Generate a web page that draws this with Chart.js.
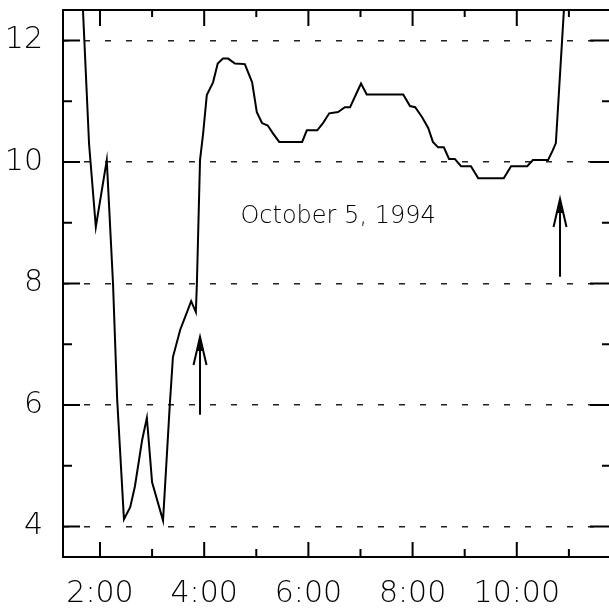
<!DOCTYPE html>
<html>
<head>
<meta charset="utf-8">
<script src="https://cdn.jsdelivr.net/npm/chart.js@4.4.1/dist/chart.umd.min.js"></script>
<style>
  html, body { margin: 0; padding: 0; background: #fff; }
  canvas { display: block; }
</style>
</head>
<body>
<canvas id="chart" width="609" height="609"></canvas>
<script>
// time of day in decimal hours
const hours = [1.62, 1.79, 1.92, 2.13, 2.25, 2.33, 2.46, 2.58, 2.67, 2.81, 2.90, 3.00, 3.21, 3.29, 3.34, 3.40, 3.54, 3.67, 3.75, 3.84,
    3.86, 3.92, 3.98, 4.05, 4.17, 4.26, 4.36, 4.46, 4.59, 4.78, 4.92, 5.01, 5.11, 5.22, 5.32, 5.44, 5.88, 5.97, 6.17, 6.28,
    6.40, 6.57, 6.70, 6.80, 7.01, 7.12, 7.82, 7.95, 8.05, 8.18, 8.30, 8.39, 8.49, 8.60, 8.70, 8.81, 8.93, 9.12, 9.26, 9.75,
    9.89, 10.20, 10.31, 10.60, 10.69, 10.75, 10.94];
const values = [13.5, 10.3, 8.93, 10.03, 8.0, 6.09, 4.12, 4.32, 4.66, 5.43, 5.79, 4.73, 4.10, 5.27, 6.01, 6.79, 7.24, 7.53, 7.71, 7.53,
    8.0, 10.03, 10.47, 11.10, 11.31, 11.62, 11.70, 11.70, 11.62, 11.61, 11.31, 10.82, 10.64, 10.60, 10.47, 10.33, 10.33, 10.52, 10.52, 10.64,
    10.80, 10.82, 10.90, 10.90, 11.29, 11.11, 11.11, 10.92, 10.90, 10.74, 10.56, 10.33, 10.24, 10.24, 10.05, 10.05, 9.93, 9.93, 9.73, 9.73,
    9.93, 9.93, 10.03, 10.03, 10.19, 10.31, 13.0];

const xTickHours = [2, 4, 6, 8, 10];
const xTickLabels = ['2:00', '4:00', '6:00', '8:00', '10:00'];
const xMinorHours = [3, 5, 7, 9, 11];
const yTickValues = [4, 6, 8, 10, 12];
const yTickLabels = ['4', '6', '8', '10', '12'];
const yMinorValues = [5, 7, 9, 11];

// arrows: x position, tail value, head value
const arrowHours = [3.92, 10.83];
const arrowFrom = [5.84, 8.11];
const arrowTo = [7.12, 9.39];

const noteText = 'October 5, 1994';
const noteHour = 6.57;
const noteValue = 9.09;

const fontFamily = '"DejaVu Sans", sans-serif';

const frame = {
    id: 'frame',
    afterDraw(chart) {
        const { ctx, chartArea: a, scales: { x, y } } = chart;
        ctx.save();
        ctx.strokeStyle = '#000';
        ctx.fillStyle = '#000';
        ctx.lineWidth = 2;
        ctx.beginPath();
        ctx.moveTo(a.right + 2, a.top);
        ctx.lineTo(a.left, a.top);
        ctx.lineTo(a.left, a.bottom);
        ctx.lineTo(a.right + 2, a.bottom);

        // inward ticks on all four sides
        xTickHours.forEach(v => {
            const px = x.getPixelForValue(v);
            ctx.moveTo(px, a.bottom); ctx.lineTo(px, a.bottom - 15);
            ctx.moveTo(px, a.top); ctx.lineTo(px, a.top + 16);
        });
        xMinorHours.forEach(v => {
            const px = x.getPixelForValue(v);
            ctx.moveTo(px, a.bottom); ctx.lineTo(px, a.bottom - 8);
            ctx.moveTo(px, a.top); ctx.lineTo(px, a.top + 7);
        });
        yTickValues.forEach(v => {
            const py = y.getPixelForValue(v);
            ctx.moveTo(a.left, py); ctx.lineTo(a.left + 17, py);
            ctx.moveTo(a.right, py); ctx.lineTo(a.right - 19, py);
        });
        yMinorValues.forEach(v => {
            const py = y.getPixelForValue(v);
            ctx.moveTo(a.left, py); ctx.lineTo(a.left + 9, py);
            ctx.moveTo(a.right, py); ctx.lineTo(a.right - 7, py);
        });
        ctx.stroke();

        // arrows
        arrowHours.forEach((h, i) => {
            const px = x.getPixelForValue(h);
            const y0 = y.getPixelForValue(arrowFrom[i]);
            const y1 = y.getPixelForValue(arrowTo[i]);
            ctx.beginPath();
            ctx.moveTo(px, y0); ctx.lineTo(px, y1);
            ctx.moveTo(px - 6.5, y1 + 28); ctx.lineTo(px, y1); ctx.lineTo(px + 6.5, y1 + 28);
            ctx.stroke();
            ctx.beginPath();
            ctx.moveTo(px, y1);
            ctx.lineTo(px - 3, y1 + 14);
            ctx.lineTo(px + 3, y1 + 14);
            ctx.closePath();
            ctx.fill();
        });

        // date note
        ctx.font = '200 24px ' + fontFamily;
        ctx.textAlign = 'center';
        ctx.textBaseline = 'middle';
        ctx.fillText(noteText, x.getPixelForValue(noteHour), y.getPixelForValue(noteValue));
        ctx.restore();
    }
};

new Chart(document.getElementById('chart'), {
    type: 'scatter',
    data: {
        datasets: [{
            data: hours.map((h, i) => ({ x: h, y: values[i] })),
            showLine: true,
            borderColor: '#000',
            borderWidth: 2,
            pointRadius: 0,
            tension: 0
        }]
    },
    options: {
        responsive: false,
        animation: false,
        layout: { padding: { top: 10, right: 0, left: 0, bottom: 0 } },
        plugins: {
            legend: { display: false },
            tooltip: { enabled: false }
        },
        scales: {
            x: {
                type: 'linear',
                min: 1.29,
                max: 11.77,
                afterBuildTicks: scale => { scale.ticks = xTickHours.map(v => ({ value: v })); },
                afterFit: scale => {
                    scale.height = 52;
                    scale.paddingLeft = 0;
                    scale.paddingRight = 0;
                },
                grid: { display: false },
                border: { display: false },
                ticks: {
                    autoSkip: false,
                    maxRotation: 0,
                    padding: 11,
                    color: '#000',
                    font: { family: fontFamily, size: 30, weight: '200' },
                    callback: v => xTickLabels[xTickHours.indexOf(v)]
                }
            },
            y: {
                min: 3.5,
                max: 12.5,
                afterBuildTicks: scale => { scale.ticks = yTickValues.map(v => ({ value: v })); },
                afterFit: scale => {
                    scale.width = 63;
                    scale.paddingTop = 0;
                    scale.paddingBottom = 0;
                },
                grid: {
                    color: '#222',
                    lineWidth: 1.5,
                    drawTicks: false
                },
                border: { display: false, dash: [6, 15] },
                ticks: {
                    padding: 20,
                    color: '#000',
                    font: { family: fontFamily, size: 30, weight: '200' },
                    callback: v => yTickLabels[yTickValues.indexOf(v)]
                }
            }
        }
    },
    plugins: [frame]
});
</script>
</body>
</html>
